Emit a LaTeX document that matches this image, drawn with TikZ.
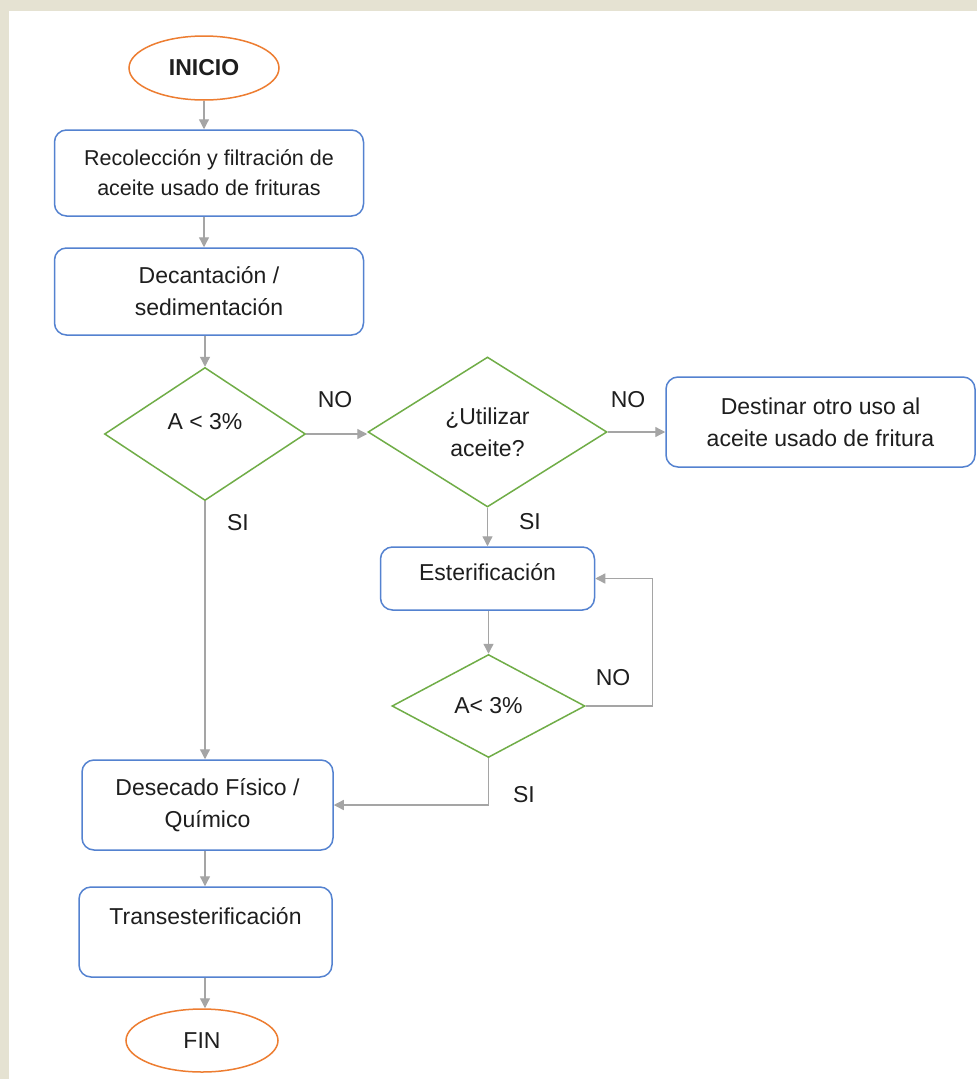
\documentclass[tikz,border=0pt]{standalone}
\usepackage{fontspec}
\setmainfont{Liberation Sans}
\usepackage{xcolor}
\usetikzlibrary{shapes.geometric,arrows.meta}

\definecolor{paper}{RGB}{229,226,210}
\definecolor{startorange}{RGB}{237,125,49}
\definecolor{stepblue}{RGB}{84,130,208}
\definecolor{askgreen}{RGB}{112,173,71}
\definecolor{flowgray}{RGB}{165,165,165}
\definecolor{ink}{RGB}{30,30,30}

\begin{document}
\begin{tikzpicture}[x=1pt,y=-1pt,
  every node/.style={text=ink,font=\fontsize{23}{32}\selectfont},
  terminal/.style={ellipse,draw=startorange,line width=1.5pt,fill=white,inner sep=0pt},
  process/.style={rectangle,rounded corners=12pt,draw=stepblue,line width=1.5pt,fill=white,align=center,inner sep=0pt},
  decision/.style={diamond,draw=askgreen,line width=1.5pt,fill=white,align=center,inner sep=0pt},
  flow/.style={draw=flowgray,line width=1.3pt,-{Triangle[length=10pt,width=10pt]}},
  answer/.style={inner sep=0pt}]
% BACKGROUND
\fill[paper] (0,0) rectangle (977,1079);
\fill[white] (9,11) rectangle (977,1079);
% NODES
\node[terminal,minimum width=150,minimum height=64,font=\bfseries\fontsize{23}{32}\selectfont] (inicio) at (204,68) {INICIO};
\node[process,minimum width=309,minimum height=86,font=\fontsize{21.5}{30}\selectfont] (recol) at (209,173) {Recolección y filtración de\\aceite usado de frituras};
\node[process,minimum width=309,minimum height=87] (decant) at (209,291.5) {Decantación /\\sedimentación};

\node[decision,minimum width=201,minimum height=133,text height=17pt,text depth=27pt] (ask1) at (205,434) {A < 3\%};
\node[decision,minimum width=239,minimum height=150] (ask2) at (487.5,432) {¿Utilizar\\aceite?};
\node[process,minimum width=309,minimum height=90] (otro) at (820.5,422) {Destinar otro uso al\\aceite usado de fritura};

\node[process,minimum width=214,minimum height=63,text height=17pt,text depth=13pt] (ester) at (487.5,578.5) {Esterificación};
\node[decision,minimum width=193,minimum height=103] (ask3) at (488.5,706) {A< 3\%};

\node[process,minimum width=251,minimum height=90] (desec) at (207.5,805) {Desecado Físico /\\Químico};
\node[process,minimum width=253,minimum height=90] (trans) at (205.5,932) {Transesterificación\\\mbox{}};
\node[terminal,minimum width=152,minimum height=63] (fin) at (202,1040.5) {FIN};
% CONNECTIONS
\draw[flow] (inicio.south) -- (inicio.south |- recol.north);
\draw[flow] (recol.south -| inicio) -- (inicio |- decant.north);
\draw[flow] (decant.south -| ask1) -- (ask1.north);
\draw[flow] (ask1.east) -- (ask1.east -| ask2.west);
\draw[flow] (ask2.east) -- (ask2.east -| otro.west);
\draw[flow] (ask2.south) -- (ask2.south |- ester.north);
\draw[flow] (ester.south -| ask3) -- (ask3.north);
\draw[flow] (ask3.east) -- ++(67,0) |- (ester.east);
\draw[flow] (ask3.south) |- (desec.east);
\draw[flow] (ask1.south) -- (ask1.south |- desec.north);
\draw[flow] (desec.south -| ask1) -- (ask1 |- trans.north);
\draw[flow] (trans.south -| ask1) -- (ask1 |- fin.north);
% ANSWERS
\node[answer] (no1) at (335,400) {NO};
\node[answer] (no2) at (628,400) {NO};
\node[answer] (si1) at (238,523) {SI};
\node[answer] (si2) at (530,522) {SI};
\node[answer] (no3) at (613,678) {NO};
\node[answer] (si3) at (524,795) {SI};
\end{tikzpicture}
\end{document}
